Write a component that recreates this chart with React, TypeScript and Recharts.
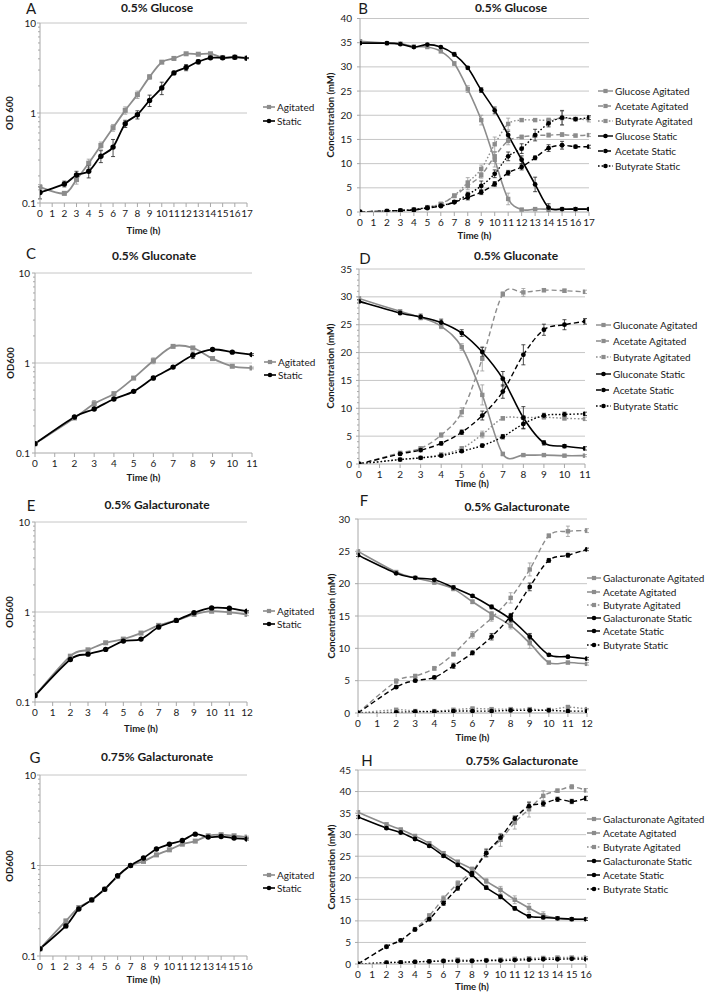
import React from 'react';
import { LineChart, Line, XAxis, YAxis, ReferenceLine, ErrorBar, Legend } from 'recharts';

const FONT = "Lato, 'Open Sans', 'DejaVu Sans', sans-serif";
const GRAY = '#8c8c8c';
const BLACK = '#000000';
const GRID = '#c6c6c6';
const AXIS = '#a8a8a8';
const TEXT = '#1a1a1a';

// ---------- tick labels ----------
const ticks11 = [0, 1, 2, 3, 4, 5, 6, 7, 8, 9, 10, 11];
const ticks12 = [0, 1, 2, 3, 4, 5, 6, 7, 8, 9, 10, 11, 12];
const ticks16 = [0, 1, 2, 3, 4, 5, 6, 7, 8, 9, 10, 11, 12, 13, 14, 15, 16];
const ticks17 = [0, 1, 2, 3, 4, 5, 6, 7, 8, 9, 10, 11, 12, 13, 14, 15, 16, 17];
const odMajor = [0.1, 1, 10];
const odMinor = [0.2, 0.3, 0.4, 0.5, 0.6, 0.7, 0.8, 0.9, 2, 3, 4, 5, 6, 7, 8, 9];
const conc40 = [0, 5, 10, 15, 20, 25, 30, 35, 40];
const conc35 = [0, 5, 10, 15, 20, 25, 30, 35];
const conc35Minor = [1, 2, 3, 4, 6, 7, 8, 9, 11, 12, 13, 14, 16, 17, 18, 19, 21, 22, 23, 24, 26, 27, 28, 29, 31, 32, 33, 34];
const conc30 = [0, 5, 10, 15, 20, 25, 30];
const conc45 = [0, 5, 10, 15, 20, 25, 30, 35, 40, 45];

// ---------- A: 0.5% Glucose OD ----------
const timeA = [0, 2, 3, 4, 5, 6, 7, 8, 9, 10, 11, 12, 13, 14, 15, 16, 17];
const odA_agi = [0.15, 0.128, 0.182, 0.277, 0.436, 0.686, 1.07, 1.6, 2.52, 3.67, 4.04, 4.55, 4.5, 4.55, 4.14, 4.17, 4.07];
const odA_sta = [0.131, 0.163, 0.205, 0.225, 0.331, 0.418, 0.76, 0.958, 1.38, 1.9, 2.79, 3.2, 3.71, 4.1, 4.1, 4.17, 4.07];
const errA_agi = [0.01, 0.005, 0.02, 0.03, 0.04, 0.06, 0.1, 0.15, 0.15, 0.12, 0.2, 0.1, 0.1, 0.1, 0.05, 0.05, 0.05];
const errA_sta = [0.02, 0.012, 0.02, 0.035, 0.05, 0.09, 0.07, 0.1, 0.2, 0.3, 0.12, 0.25, 0.2, 0.1, 0.1, 0.05, 0.05];

// ---------- B: 0.5% Glucose concentrations ----------
const timeB = [0, 2, 3, 4, 5, 6, 7, 8, 9, 10, 11, 12, 13, 14, 15, 16, 17];
const glcB_agi = [35.3, 34.9, 34.8, 34.2, 34.1, 33.2, 30.7, 25.4, 19.0, 10.8, 2.7, 0.5, 0.6, 0.6, 0.6, 0.6, 0.6];
const aceB_agi = [0, 0.2, 0.3, 0.5, 1.0, 1.6, 3.3, 5.4, 7.6, 11.5, 14.7, 15.5, 15.8, 15.9, 16.0, 15.8, 15.9];
const butB_agi = [0, 0.2, 0.3, 0.5, 1.0, 1.7, 3.4, 6.1, 8.9, 14.0, 18.2, 19.0, 19.0, 19.0, 19.4, 19.2, 19.1];
const glcB_sta = [34.9, 34.9, 34.7, 34.1, 34.6, 34.1, 32.6, 29.8, 25.2, 21.0, 15.9, 10.8, 5.7, 0.9, 0.6, 0.6, 0.6];
const aceB_sta = [0, 0.2, 0.3, 0.4, 0.8, 1.2, 2.0, 3.0, 4.1, 5.8, 8.1, 9.3, 11.2, 13.2, 13.8, 13.5, 13.5];
const butB_sta = [0, 0.2, 0.3, 0.5, 0.9, 1.3, 2.1, 3.6, 5.4, 7.9, 11.5, 13.1, 15.9, 18.3, 19.5, 19.2, 19.5];
const errB_glc_agi = [0, 0, 0, 0, 0, 0, 0.4, 0.7, 1.0, 1.5, 1.2, 0.2, 0.2, 0.2, 0, 0, 0];
const errB_ace_agi = [0, 0, 0, 0, 0, 0, 0.3, 0.8, 0.6, 1.0, 0.8, 0.4, 0.3, 0.4, 0.4, 0.3, 0.3];
const errB_but_agi = [0, 0, 0, 0, 0, 0, 0.3, 1.0, 0.8, 1.5, 1.2, 0.3, 0.3, 0.4, 1.4, 0.4, 0.5];
const errB_glc_sta = [0, 0, 0, 0, 0, 0, 0.4, 0.3, 0.5, 0.7, 0.8, 0.8, 1.5, 0.8, 0, 0, 0];
const errB_ace_sta = [0, 0, 0, 0, 0, 0, 0.2, 0.5, 0.5, 0.5, 0.5, 0.6, 0.4, 0.7, 0.8, 0.3, 0.3];
const errB_but_sta = [0, 0, 0, 0, 0, 0, 0.2, 0.5, 1.0, 0.8, 0.9, 1.0, 1.2, 0.7, 1.5, 0.3, 0.4];

// ---------- C: 0.5% Gluconate OD ----------
const timeC = [0, 2, 3, 4, 5, 6, 7, 8, 9, 10, 11];
const odC_agi = [0.127, 0.245, 0.353, 0.456, 0.68, 1.06, 1.53, 1.47, 1.12, 0.92, 0.88];
const odC_sta = [0.127, 0.251, 0.308, 0.398, 0.484, 0.68, 0.9, 1.22, 1.41, 1.32, 1.24];
const errC_agi = [0, 0, 0.03, 0.02, 0.02, 0.08, 0.05, 0.05, 0.03, 0.02, 0.02];
const errC_sta = [0, 0, 0.01, 0.01, 0.01, 0.03, 0.03, 0.1, 0.04, 0.03, 0.03];

// ---------- D: 0.5% Gluconate concentrations ----------
const timeD = [0, 2, 3, 4, 5, 6, 7, 8, 9, 10, 11];
const glnD_agi = [29.7, 27.4, 26.3, 24.7, 21.0, 12.4, 1.8, 1.6, 1.6, 1.5, 1.5];
const aceD_agi = [0, 2.0, 2.8, 5.2, 9.3, 18.9, 30.5, 30.8, 31.2, 31.1, 30.9];
const butD_agi = [0, 0.8, 1.1, 1.7, 2.8, 5.3, 8.2, 8.3, 8.4, 8.2, 8.1];
const glnD_sta = [29.2, 27.1, 26.4, 25.4, 23.5, 20.1, 15.3, 8.3, 3.8, 3.2, 2.8];
const aceD_sta = [0, 1.8, 2.5, 3.7, 5.7, 8.7, 13.0, 19.6, 24.1, 25.0, 25.6];
const butD_sta = [0, 0.8, 1.1, 1.5, 2.3, 3.3, 4.9, 7.2, 8.7, 8.9, 9.0];
const errD_gln_agi = [0.3, 0.2, 0.3, 0.4, 0.6, 1.8, 0.3, 0.2, 0.2, 0.2, 0.2];
const errD_ace_agi = [0, 0.2, 0.3, 0.4, 0.8, 2.2, 0.4, 0.7, 0.3, 0.3, 0.3];
const errD_but_agi = [0, 0.1, 0.1, 0.2, 0.3, 0.6, 0.3, 0.3, 0.3, 0.3, 0.3];
const errD_gln_sta = [0.3, 0.3, 0.5, 0.6, 0.6, 0.8, 1.3, 2.0, 0.4, 0.3, 0.3];
const errD_ace_sta = [0, 0.2, 0.3, 0.3, 0.4, 0.8, 1.2, 1.8, 1.0, 0.9, 0.5];
const errD_but_sta = [0, 0.1, 0.1, 0.2, 0.2, 0.3, 0.4, 0.8, 0.4, 0.4, 0.3];

// ---------- E: 0.5% Galacturonate OD ----------
const timeE = [0, 2, 3, 4, 5, 6, 7, 8, 9, 10, 11, 12];
const odE_agi = [0.118, 0.323, 0.38, 0.455, 0.5, 0.583, 0.71, 0.807, 0.94, 1.02, 0.99, 0.94];
const odE_sta = [0.118, 0.297, 0.34, 0.384, 0.475, 0.5, 0.68, 0.807, 0.98, 1.11, 1.1, 1.02];
const errE_agi = [0, 0.01, 0.01, 0.01, 0.01, 0.01, 0.03, 0.02, 0.03, 0.03, 0.03, 0.03];
const errE_sta = [0, 0.01, 0.01, 0.01, 0.01, 0.01, 0.03, 0.02, 0.02, 0.03, 0.02, 0.02];

// ---------- F: 0.5% Galacturonate concentrations ----------
const timeF = [0, 2, 3, 4, 5, 6, 7, 8, 9, 10, 11, 12];
const galF_agi = [25.0, 21.8, 20.9, 20.2, 19.2, 17.2, 15.3, 13.5, 10.8, 7.8, 7.8, 7.6];
const aceF_agi = [0, 4.9, 5.7, 6.9, 9.1, 12.1, 14.7, 17.8, 22.2, 27.4, 28.1, 28.2];
const butF_agi = [0, 0.5, 0.3, 0.3, 0.5, 0.7, 0.6, 0.6, 0.6, 0.5, 0.9, 0.6];
const galF_sta = [24.4, 21.6, 20.9, 20.6, 19.4, 18.1, 16.4, 14.5, 11.8, 9.0, 8.7, 8.4];
const aceF_sta = [0, 4.0, 5.0, 5.5, 7.3, 9.3, 11.8, 15.0, 19.5, 23.6, 24.4, 25.3];
const butF_sta = [0, 0.1, 0.2, 0.2, 0.3, 0.3, 0.3, 0.4, 0.4, 0.4, 0.3, 0.3];
const errF_gal_agi = [0.2, 0.2, 0.2, 0.3, 0.3, 0.3, 0.4, 0.5, 0.8, 0.2, 0.2, 0.2];
const errF_ace_agi = [0, 0.4, 0.3, 0.3, 0.3, 0.5, 0.5, 0.8, 1.0, 0.3, 0.8, 0.3];
const errF_but_agi = [0, 0.1, 0.1, 0.1, 0.1, 0.1, 0.1, 0.1, 0.1, 0.1, 0.3, 0.1];
const errF_gal_sta = [0.2, 0.2, 0.2, 0.2, 0.3, 0.2, 0.3, 0.4, 0.5, 0.2, 0.2, 0.2];
const errF_ace_sta = [0, 0.2, 0.2, 0.2, 0.4, 0.3, 0.5, 0.4, 0.6, 0.3, 0.3, 0.2];
const errF_but_sta = [0, 0, 0, 0, 0, 0, 0, 0, 0, 0, 0, 0];

// ---------- G: 0.75% Galacturonate OD ----------
const timeG = [0, 2, 3, 4, 5, 6, 7, 8, 9, 10, 11, 12, 13, 14, 15, 16];
const odG_agi = [0.12, 0.244, 0.343, 0.417, 0.547, 0.755, 1.0, 1.11, 1.31, 1.49, 1.72, 1.86, 2.13, 2.19, 2.13, 2.06];
const odG_sta = [0.12, 0.215, 0.331, 0.417, 0.547, 0.769, 1.0, 1.21, 1.52, 1.72, 1.89, 2.22, 2.06, 2.09, 2.01, 1.96];
const errG_agi = [0, 0.01, 0.015, 0.01, 0.01, 0.02, 0.02, 0.04, 0.04, 0.04, 0.04, 0.05, 0.05, 0.05, 0.05, 0.05];
const errG_sta = [0, 0.01, 0.01, 0.01, 0.01, 0.02, 0.02, 0.03, 0.03, 0.04, 0.04, 0.05, 0.05, 0.05, 0.05, 0.05];

// ---------- H: 0.75% Galacturonate concentrations ----------
const timeH = [0, 2, 3, 4, 5, 6, 7, 8, 9, 10, 11, 12, 13, 14, 15, 16];
const galH_agi = [35.2, 32.4, 31.2, 29.7, 28.0, 25.7, 23.7, 22.0, 19.2, 17.2, 14.9, 13.0, 11.3, 10.6, 10.4, 10.4];
const aceH_agi = [0, 4.0, 5.5, 8.1, 11.2, 15.2, 18.7, 21.5, 25.8, 28.8, 32.8, 35.9, 39.0, 40.2, 41.1, 40.3];
const butH_agi = [0, 0.3, 0.4, 0.5, 0.6, 0.7, 1.0, 0.8, 0.9, 1.0, 1.2, 1.3, 1.4, 1.5, 1.5, 1.5];
const galH_sta = [34.1, 31.5, 30.5, 29.0, 27.4, 25.1, 23.0, 20.7, 17.7, 15.6, 12.9, 11.1, 10.8, 10.6, 10.4, 10.4];
const aceH_sta = [0, 4.0, 5.5, 8.0, 10.4, 14.1, 17.6, 21.1, 25.7, 29.3, 33.7, 36.6, 37.2, 38.2, 37.7, 38.4];
const butH_sta = [0, 0.3, 0.4, 0.5, 0.6, 0.7, 0.7, 0.7, 0.8, 0.8, 0.9, 1.0, 1.1, 1.1, 1.2, 1.1];
const errH_gal_agi = [0.3, 0.3, 0.3, 0.3, 0.3, 0.4, 0.4, 0.5, 0.6, 0.8, 0.9, 1.0, 0.8, 0.3, 0.3, 0.3];
const errH_ace_agi = [0, 0.2, 0.2, 0.3, 0.5, 0.6, 0.6, 0.6, 1.0, 1.5, 1.5, 1.8, 1.2, 0.4, 0.5, 0.4];
const errH_but_agi = [0, 0, 0, 0.1, 0.1, 0.1, 0.2, 0.1, 0.1, 0.1, 0.2, 0.2, 0.2, 0.2, 0.2, 0.2];
const errH_gal_sta = [0.3, 0.3, 0.3, 0.3, 0.3, 0.4, 0.4, 0.4, 0.4, 0.4, 0.4, 0.4, 0.3, 0.3, 0.3, 0.3];
const errH_ace_sta = [0, 0.2, 0.2, 0.3, 0.4, 0.5, 0.5, 0.6, 0.8, 0.8, 0.6, 0.8, 0.6, 0.5, 0.5, 0.5];
const errH_but_sta = [0, 0, 0, 0, 0, 0, 0.1, 0.1, 0.1, 0.1, 0.1, 0.1, 0.1, 0.1, 0.1, 0.1];

// ---------- types ----------
type Kind = 'solid' | 'dash' | 'dot';
interface S { name: string; values: number[]; err: number[]; agi: boolean; kind: Kind }
interface PanelCfg {
  col: 0 | 1;
  plot: [number, number, number, number];
  times: number[];
  xTicks: number[];
  log: boolean;
  yMajor: number[];
  yMinor: number[];
  yGap: number;
  series: S[];
  legend: { x: number; y: number; row: number; icon: number };
  title: string; titleC: [number, number];
  letter: string; letterC: [number, number];
  yTitle: string; yTitleC: [number, number];
  xTitleY: number;
}

// Excel-like smoothed line (Catmull-Rom as cubic Bezier)
const excelCurve: any = (context: any) => {
  let pts: number[][] = [];
  return {
    areaStart() {},
    areaEnd() {},
    lineStart() { pts = []; },
    point(x: number, y: number) { pts.push([+x, +y]); },
    lineEnd() {
      const n = pts.length;
      if (!n) return;
      context.moveTo(pts[0][0], pts[0][1]);
      const k = 1 / 6;
      for (let i = 0; i < n - 1; i++) {
        const p0 = pts[Math.max(0, i - 1)];
        const p1 = pts[i];
        const p2 = pts[i + 1];
        const p3 = pts[Math.min(n - 1, i + 2)];
        context.bezierCurveTo(
          p1[0] + (p2[0] - p0[0]) * k, p1[1] + (p2[1] - p0[1]) * k,
          p2[0] - (p3[0] - p1[0]) * k, p2[1] - (p3[1] - p1[1]) * k,
          p2[0], p2[1]
        );
      }
    },
  };
};

const dashOf = (k: Kind) => (k === 'dash' ? '5 3' : k === 'dot' ? '1.6 2' : undefined);
const widthOf = (k: Kind, left: boolean) => (left ? 1.8 : k === 'solid' ? 1.6 : 1.4);

const makeDot = (agi: boolean, big: boolean) => (props: any) => {
  const { cx, cy, index } = props;
  if (cx == null || cy == null) return <g key={`d${index}`} />;
  if (agi) {
    const s = big ? 5 : 4.4;
    return <rect key={`d${index}`} x={cx - s / 2} y={cy - s / 2} width={s} height={s} fill={GRAY} />;
  }
  return <circle key={`d${index}`} cx={cx} cy={cy} r={big ? 2.7 : 2.4} fill={BLACK} />;
};

const makeYTick = (majors: number[], gap: number) => (props: any) => {
  const { x, y, payload, index } = props;
  const v = payload.value;
  const isMajor = majors.some((m) => Math.abs(m - v) < 1e-6);
  const len = isMajor ? 3 : 2;
  return (
    <g key={`yt${index}`}>
      <line x1={x - len} x2={x} y1={y} y2={y} stroke={AXIS} strokeWidth={1} />
      {isMajor && (
        <text x={x - gap} y={y} dy="0.35em" textAnchor="end" fontSize={10} fontFamily={FONT} fill={TEXT}>
          {String(v)}
        </text>
      )}
    </g>
  );
};

const LegendBox = ({ series, row, icon, left }: { series: S[]; row: number; icon: number; left: boolean }) => (
  <div style={{ fontFamily: FONT, fontSize: 10, color: TEXT }}>
    {series.map((s, i) => {
      const col = s.agi ? GRAY : BLACK;
      return (
        <div key={i} style={{ display: 'flex', alignItems: 'center', height: row, whiteSpace: 'nowrap' }}>
          <svg width={icon} height={8} style={{ marginRight: 2, flex: 'none' }}>
            <line x1={0} x2={icon} y1={4} y2={4} stroke={col} strokeWidth={left ? 1.6 : 1.4} strokeDasharray={dashOf(s.kind)} />
            {s.agi ? (
              <rect x={icon / 2 - 2.1} y={1.9} width={4.2} height={4.2} fill={GRAY} />
            ) : (
              <circle cx={icon / 2} cy={4} r={2.3} fill={BLACK} />
            )}
          </svg>
          <span>{s.name}</span>
        </div>
      );
    })}
  </div>
);

const textAt = (cx: number, cy: number, text: string, style: React.CSSProperties, rotate = false) => (
  <div
    style={{
      position: 'absolute', left: cx, top: cy, lineHeight: 1, whiteSpace: 'nowrap', fontFamily: FONT, color: TEXT,
      transform: `translate(-50%, -50%)${rotate ? ' rotate(-90deg)' : ''}`,
      ...style,
    }}
  >
    {text}
  </div>
);

function Panel({ cfg }: { cfg: PanelCfg }) {
  const [x1, y1, x2, y2] = cfg.plot;
  const boxLeft = cfg.col === 0 ? 0 : 300;
  const boxW = cfg.col === 0 ? 330 : 405;
  const boxTop = Math.floor(y1) - 12;
  const xAxisH = 34;
  const boxH = Math.round(y2 - boxTop + xAxisH);
  const rows = cfg.times.map((t, i) => {
    const r: any = { t };
    cfg.series.forEach((s, j) => {
      r['s' + j] = s.values[i];
      r['e' + j] = s.err[i];
    });
    return r;
  });
  const yMin = cfg.yMajor[0];
  const yMax = cfg.yMajor[cfg.yMajor.length - 1];
  const allTicks = [...cfg.yMajor, ...cfg.yMinor].sort((a, b) => a - b);
  const xMax = cfg.xTicks[cfg.xTicks.length - 1];
  const left = cfg.col === 0;
  const lg = cfg.legend;
  return (
    <>
      <div style={{ position: 'absolute', left: boxLeft, top: boxTop, width: boxW, height: boxH }}>
        <LineChart
          width={boxW}
          height={boxH}
          data={rows}
          margin={{ top: y1 - boxTop, right: boxLeft + boxW - x2, bottom: boxH - (y2 - boxTop) - xAxisH, left: 0 }}
        >
          <XAxis
            type="number"
            dataKey="t"
            domain={[0, xMax]}
            ticks={cfg.xTicks}
            interval={0}
            allowDataOverflow
            height={xAxisH}
            tickSize={4}
            tickMargin={3}
            tick={{ fontSize: 10, fill: TEXT, fontFamily: FONT }}
            tickLine={{ stroke: AXIS }}
            axisLine={{ stroke: AXIS }}
          />
          <YAxis
            type="number"
            scale={cfg.log ? 'log' : 'linear'}
            domain={[yMin, yMax]}
            ticks={allTicks}
            interval={0}
            allowDataOverflow
            width={x1 - boxLeft}
            tickSize={0}
            tickMargin={0}
            tickLine={false}
            axisLine={{ stroke: AXIS }}
            tick={makeYTick(cfg.yMajor, cfg.yGap)}
          />
          {cfg.yMajor.slice(1).map((v) => (
            <ReferenceLine key={`g${v}`} y={v} stroke={GRID} strokeWidth={1} />
          ))}
          {cfg.series.map((s, j) => (
            <Line
              key={s.name}
              name={s.name}
              dataKey={'s' + j}
              type={excelCurve}
              stroke={s.agi ? GRAY : BLACK}
              strokeWidth={widthOf(s.kind, left)}
              strokeDasharray={dashOf(s.kind)}
              dot={makeDot(s.agi, left)}
              activeDot={false}
              isAnimationActive={false}
            >
              <ErrorBar dataKey={'e' + j} width={2} stroke={s.agi ? '#9a9a9a' : '#222'} strokeWidth={0.8} direction="y" />
            </Line>
          ))}
          <Legend
            layout="horizontal"
            verticalAlign="middle"
            align="center"
            wrapperStyle={{ left: lg.x - boxLeft, top: lg.y - lg.row / 2 - boxTop, width: 130, height: lg.row * cfg.series.length }}
            content={() => <LegendBox series={cfg.series} row={lg.row} icon={lg.icon} left={left} />}
          />
        </LineChart>
      </div>
      {textAt(cfg.titleC[0], cfg.titleC[1], cfg.title, { fontSize: 12, fontWeight: 700 })}
      {textAt(cfg.letterC[0], cfg.letterC[1], cfg.letter, { fontSize: 15, fontWeight: 400, lineHeight: 0.75 })}
      {textAt(cfg.yTitleC[0], cfg.yTitleC[1], cfg.yTitle, { fontSize: 9.5, fontWeight: 700 }, true)}
      {textAt((x1 + x2) / 2, cfg.xTitleY, 'Time (h)', { fontSize: 9.5, fontWeight: 700 })}
    </>
  );
}

const odSeries = (agi: number[], sta: number[], ea: number[], es: number[]): S[] => [
  { name: 'Agitated', values: agi, err: ea, agi: true, kind: 'solid' },
  { name: 'Static', values: sta, err: es, agi: false, kind: 'solid' },
];

const concSeries = (sub: string, v: number[][], e: number[][]): S[] => [
  { name: `${sub} Agitated`, values: v[0], err: e[0], agi: true, kind: 'solid' },
  { name: 'Acetate Agitated', values: v[1], err: e[1], agi: true, kind: 'dash' },
  { name: 'Butyrate Agitated', values: v[2], err: e[2], agi: true, kind: 'dot' },
  { name: `${sub} Static`, values: v[3], err: e[3], agi: false, kind: 'solid' },
  { name: 'Acetate Static', values: v[4], err: e[4], agi: false, kind: 'dash' },
  { name: 'Butyrate Static', values: v[5], err: e[5], agi: false, kind: 'dot' },
];

const panels: PanelCfg[] = [
  {
    col: 0, plot: [40, 23, 247, 203], times: timeA, xTicks: ticks17, log: true, yMajor: odMajor, yMinor: odMinor, yGap: 4,
    series: odSeries(odA_agi, odA_sta, errA_agi, errA_sta),
    legend: { x: 263, y: 107, row: 14, icon: 12 },
    title: '0.5% Glucose', titleC: [157, 8], letter: 'A', letterC: [31, 8.5], yTitle: 'OD 600', yTitleC: [10, 113], xTitleY: 231,
  },
  {
    col: 1, plot: [360, 18.5, 589, 212], times: timeB, xTicks: ticks17, log: false, yMajor: conc40, yMinor: [], yGap: 8,
    series: concSeries('Glucose', [glcB_agi, aceB_agi, butB_agi, glcB_sta, aceB_sta, butB_sta],
      [errB_glc_agi, errB_ace_agi, errB_but_agi, errB_glc_sta, errB_ace_sta, errB_but_sta]),
    legend: { x: 598, y: 91, row: 15, icon: 15 },
    title: '0.5% Glucose', titleC: [511, 8], letter: 'B', letterC: [363, 9], yTitle: 'Concentration (mM)', yTitleC: [331, 115], xTitleY: 236,
  },
  {
    col: 0, plot: [35, 273, 252, 453], times: timeC, xTicks: ticks11, log: true, yMajor: odMajor, yMinor: odMinor, yGap: 5,
    series: odSeries(odC_agi, odC_sta, errC_agi, errC_sta),
    legend: { x: 264, y: 362, row: 13, icon: 12 },
    title: '0.5% Gluconate', titleC: [154, 256], letter: 'C', letterC: [31, 254], yTitle: 'OD600', yTitleC: [11, 363], xTitleY: 478,
  },
  {
    col: 1, plot: [359, 269, 585, 464], times: timeD, xTicks: ticks11, log: false, yMajor: conc35, yMinor: conc35Minor, yGap: 7,
    series: concSeries('Gluconate', [glnD_agi, aceD_agi, butD_agi, glnD_sta, aceD_sta, butD_sta],
      [errD_gln_agi, errD_ace_agi, errD_but_agi, errD_gln_sta, errD_ace_sta, errD_but_sta]),
    legend: { x: 596, y: 325, row: 16.2, icon: 15 },
    title: '0.5% Gluconate', titleC: [516, 256], letter: 'D', letterC: [365, 259], yTitle: 'Concentration (mM)', yTitleC: [331, 366], xTitleY: 484,
  },
  {
    col: 0, plot: [35, 522, 247, 702], times: timeE, xTicks: ticks12, log: true, yMajor: odMajor, yMinor: odMinor, yGap: 5,
    series: odSeries(odE_agi, odE_sta, errE_agi, errE_sta),
    legend: { x: 263, y: 611, row: 13, icon: 12 },
    title: '0.5% Galacturonate', titleC: [157, 505], letter: 'E', letterC: [31, 506], yTitle: 'OD600', yTitleC: [10, 612], xTitleY: 729,
  },
  {
    col: 1, plot: [358, 519, 587, 713], times: timeF, xTicks: ticks12, log: false, yMajor: conc30, yMinor: [], yGap: 8,
    series: concSeries('Galacturonate', [galF_agi, aceF_agi, butF_agi, galF_sta, aceF_sta, butF_sta],
      [errF_gal_agi, errF_ace_agi, errF_but_agi, errF_gal_sta, errF_ace_sta, errF_but_sta]),
    legend: { x: 587, y: 578.3, row: 13.3, icon: 14 },
    title: '0.5% Galacturonate', titleC: [517, 507], letter: 'F', letterC: [364, 501], yTitle: 'Concentration (mM)', yTitleC: [332, 616], xTitleY: 738,
  },
  {
    col: 0, plot: [40, 775, 247, 956], times: timeG, xTicks: ticks16, log: true, yMajor: odMajor, yMinor: odMinor, yGap: 4,
    series: odSeries(odG_agi, odG_sta, errG_agi, errG_sta),
    legend: { x: 263, y: 875, row: 12.5, icon: 12 },
    title: '0.75% Galacturonate', titleC: [157, 757], letter: 'G', letterC: [35, 758], yTitle: 'OD600', yTitleC: [10, 866], xTitleY: 980,
  },
  {
    col: 1, plot: [358, 770, 586, 964], times: timeH, xTicks: ticks16, log: false, yMajor: conc45, yMinor: [], yGap: 7,
    series: concSeries('Galacturonate', [galH_agi, aceH_agi, butH_agi, galH_sta, aceH_sta, butH_sta],
      [errH_gal_agi, errH_ace_agi, errH_but_agi, errH_gal_sta, errH_ace_sta, errH_but_sta]),
    legend: { x: 587, y: 819.3, row: 14, icon: 14 },
    title: '0.75% Galacturonate', titleC: [522, 761], letter: 'H', letterC: [367, 761], yTitle: 'Concentration (mM)', yTitleC: [332, 867], xTitleY: 987,
  },
];

export default function App() {
  return (
    <div style={{ position: 'absolute', left: 0, top: 0, width: 705, height: 992, background: '#fff', overflow: 'hidden' }}>
      {panels.map((p, i) => (
        <Panel key={i} cfg={p} />
      ))}
    </div>
  );
}
